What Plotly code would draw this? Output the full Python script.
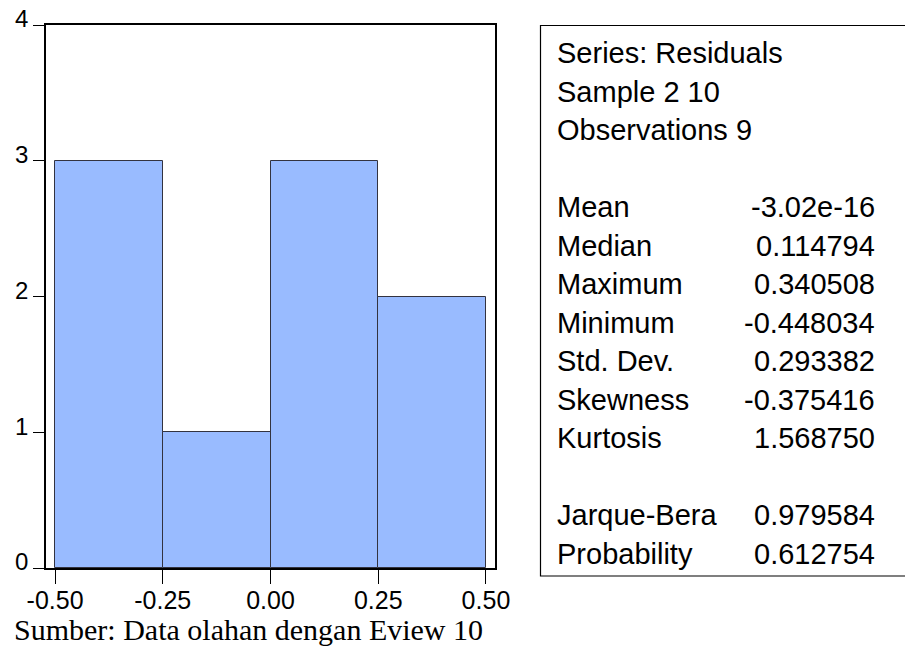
import plotly.graph_objects as go

# ---- data ----
bin_edges = [-0.50, -0.25, 0.00, 0.25, 0.50]
counts = [3, 1, 3, 2]
x_tick_vals = [-0.50, -0.25, 0.00, 0.25, 0.50]
x_tick_text = ["-0.50", "-0.25", "0.00", "0.25", "0.50"]
y_tick_vals = [0, 1, 2, 3, 4]

header_lines = ["Series: Residuals", "Sample 2 10", "Observations 9"]
stat_labels = ["Mean", "Median", "Maximum", "Minimum", "Std. Dev.", "Skewness", "Kurtosis"]
stat_values = ["-3.02e-16", "0.114794", "0.340508", "-0.448034", "0.293382", "-0.375416", "1.568750"]
test_labels = ["Jarque-Bera", "Probability"]
test_values = ["0.979584", "0.612754"]
caption = "Sumber: Data olahan dengan Eview 10"

W, H = 905, 648
centers = [(bin_edges[i] + bin_edges[i + 1]) / 2 for i in range(len(counts))]
widths = [bin_edges[i + 1] - bin_edges[i] for i in range(len(counts))]

fig = go.Figure()
fig.add_trace(go.Bar(
    x=centers, y=counts, width=widths,
    marker=dict(color="#99BBFF", line=dict(color="#333340", width=1)),
    hoverinfo="skip",
))

def px_x(p):
    return p / W

def px_y(p):
    return (H - p) / H

AX_FONT = dict(family="Liberation Sans, Arial, sans-serif", size=25, color="black")

fig.update_layout(
    width=W, height=H,
    margin=dict(l=0, r=0, t=0, b=0),
    paper_bgcolor="white", plot_bgcolor="white",
    showlegend=False,
    bargap=0,
    xaxis=dict(
        domain=[px_x(46), px_x(495)],
        range=[-0.521, 0.521],
        tickvals=x_tick_vals, ticktext=x_tick_text,
        ticks="outside", ticklen=14, tickwidth=1, tickcolor="black",
        showline=True, linecolor="black", linewidth=1.5, mirror=True,
        showgrid=False, zeroline=False,
        tickfont=AX_FONT, automargin=False,
        ticklabelstandoff=-5,
    ),
    yaxis=dict(
        domain=[px_y(568), px_y(25)],
        range=[0, 4],
        tickvals=y_tick_vals,
        ticks="outside", ticklen=11, tickwidth=1, tickcolor="black",
        showline=True, linecolor="black", linewidth=1.5, mirror=True,
        showgrid=False, zeroline=False,
        tickfont=dict(family="Liberation Sans, Arial, sans-serif", size=24, color="black"),
        automargin=False,
        ticklabelshift=-6,
    ),
)

# stats box
fig.add_shape(type="rect", xref="paper", yref="paper",
              x0=px_x(540.5), x1=px_x(912), y0=px_y(576), y1=px_y(25.5),
              line=dict(color="black", width=1.2), fillcolor="rgba(0,0,0,0)")

STAT_FONT = dict(family="Liberation Sans, Arial, sans-serif", size=29, color="black")
first_base = 63
step = 38.5

def add_line(idx, left, right=None):
    base = first_base + step * idx
    yb = px_y(base + 8)
    fig.add_annotation(xref="paper", yref="paper", x=px_x(555), y=yb,
                       xanchor="left", yanchor="bottom", text=left,
                       showarrow=False, font=STAT_FONT)
    if right is not None:
        fig.add_annotation(xref="paper", yref="paper", x=px_x(877), y=yb,
                           xanchor="right", yanchor="bottom", text=right,
                           showarrow=False, font=STAT_FONT)

row = 0
for t in header_lines:
    add_line(row, t)
    row += 1
row += 1
for lab, val in zip(stat_labels, stat_values):
    add_line(row, lab, val)
    row += 1
row += 1
for lab, val in zip(test_labels, test_values):
    add_line(row, lab, val)
    row += 1

fig.add_annotation(xref="paper", yref="paper", x=px_x(12), y=px_y(648),
                   xanchor="left", yanchor="bottom", text=caption,
                   showarrow=False,
                   font=dict(family="Liberation Serif, Times New Roman, serif", size=30, color="black"))

fig.write_html("out.html", config={"displayModeBar": False},
               post_script="document.body.style.margin='0';")
